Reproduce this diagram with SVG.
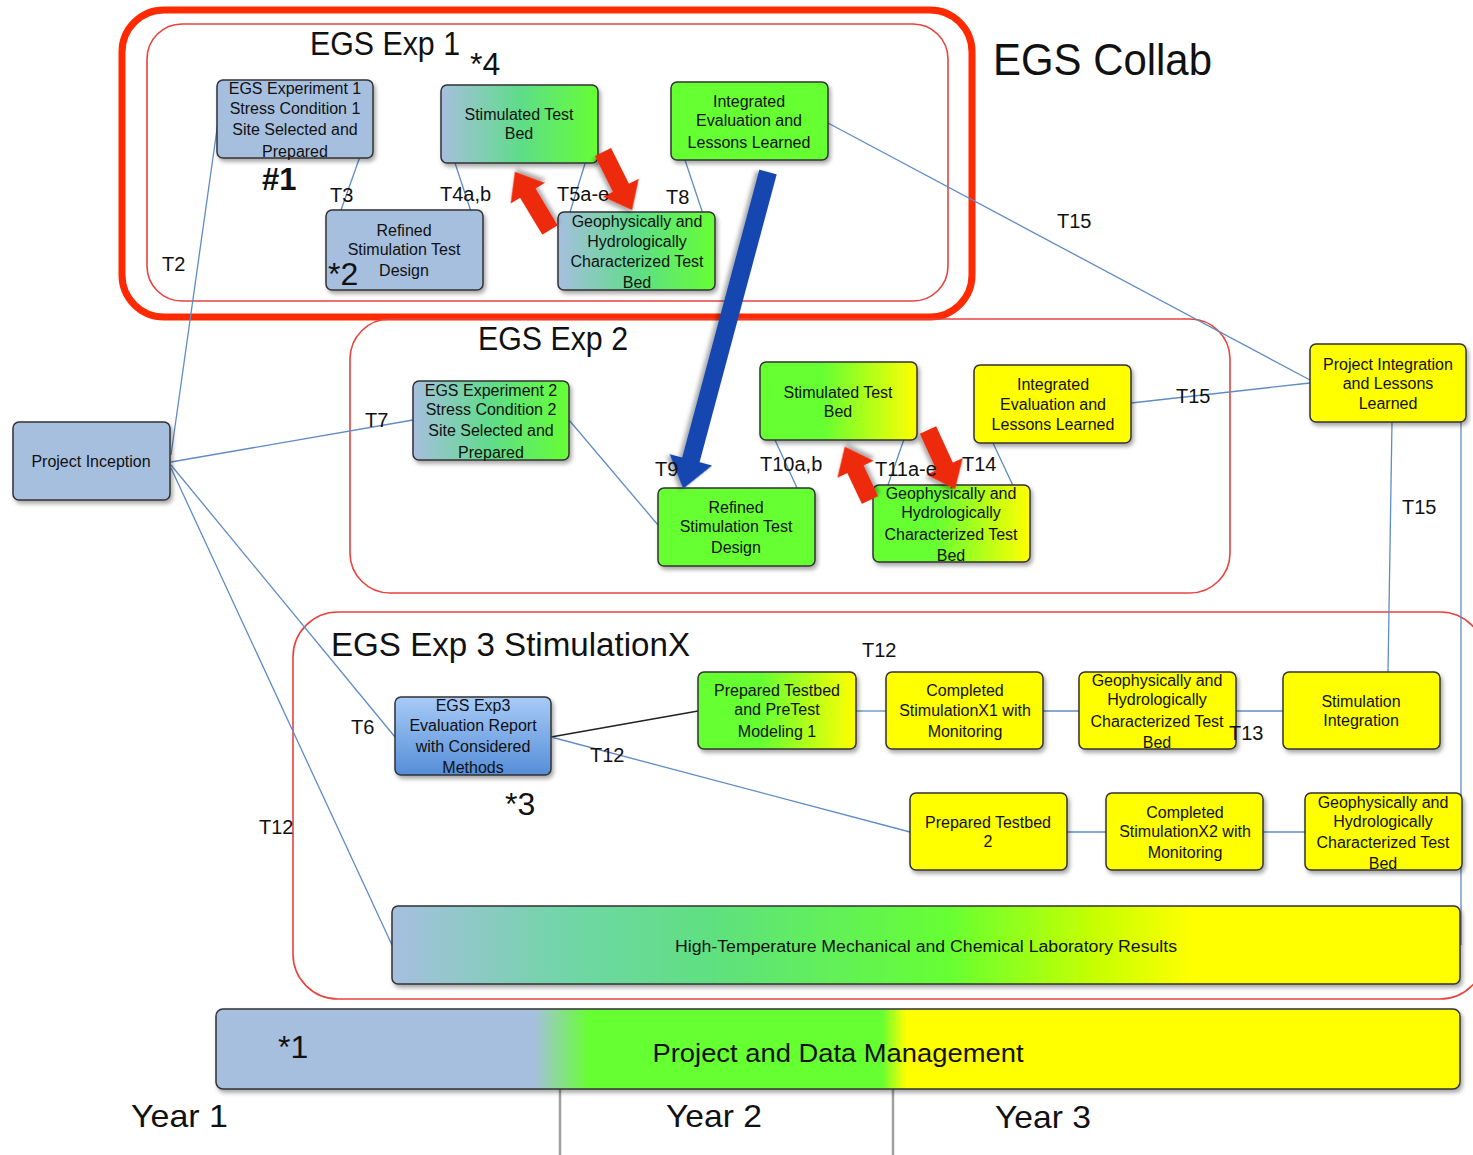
<svg xmlns="http://www.w3.org/2000/svg" width="1473" height="1155" viewBox="0 0 1473 1155">
<style>
.n{stroke:#333;stroke-width:1.5;filter:url(#sh)}
.t{font-family:"Liberation Sans",Arial,sans-serif;font-size:16px;fill:#111;text-anchor:middle}
.lb{font-family:"Liberation Sans",Arial,sans-serif;font-size:20px;fill:#111}
.ti{font-family:"Liberation Sans",Arial,sans-serif;fill:#111}
.c{stroke:#5f8cc4;stroke-width:1.3;fill:none}
.grp{fill:none;stroke:#e8433f;stroke-width:1.6}
.ra{fill:#ee2c0a;filter:url(#sh)}
</style>
<defs>
<filter id="sh" x="-20%" y="-20%" width="140%" height="150%"><feDropShadow dx="2" dy="3" stdDeviation="2" flood-color="#000" flood-opacity="0.35"/></filter>
<linearGradient id="bg"><stop offset="0" stop-color="#a6bfdf"/><stop offset="0.5" stop-color="#5fdc8a"/><stop offset="1" stop-color="#66ff33"/></linearGradient>
<linearGradient id="gy"><stop offset="0" stop-color="#66ff33"/><stop offset="0.4" stop-color="#66ff33"/><stop offset="1" stop-color="#ffff00"/></linearGradient>
<linearGradient id="bv" x1="0" y1="0" x2="0" y2="1"><stop offset="0" stop-color="#a8cbf8"/><stop offset="1" stop-color="#558ed8"/></linearGradient>
<linearGradient id="ht"><stop offset="0" stop-color="#a6bfdf"/><stop offset="0.17" stop-color="#6fd6a5"/><stop offset="0.3" stop-color="#5fe080"/><stop offset="0.52" stop-color="#66ff33"/><stop offset="0.66" stop-color="#c8ff00"/><stop offset="0.75" stop-color="#ffff00"/><stop offset="1" stop-color="#ffff00"/></linearGradient>
<linearGradient id="pd"><stop offset="0" stop-color="#a6bfdf"/><stop offset="0.255" stop-color="#a6bfdf"/><stop offset="0.3" stop-color="#66ff33"/><stop offset="0.535" stop-color="#66ff33"/><stop offset="0.555" stop-color="#ffff00"/><stop offset="1" stop-color="#ffff00"/></linearGradient>
</defs>
<rect width="1473" height="1155" fill="#fff"/>

<g id="groups">
<rect x="122" y="10" width="850" height="307" rx="42" fill="none" stroke="#ff2a00" stroke-width="7"/>
<rect class="grp" x="147" y="24" width="801" height="277" rx="35"/>
<rect class="grp" x="350" y="319" width="880" height="274" rx="40"/>
<rect class="grp" x="293" y="612" width="1192" height="387" rx="45"/>
</g>

<g id="connectors">
<line class="c" x1="171" y1="455" x2="218" y2="122"/>
<line class="c" x1="373" y1="120" x2="341" y2="210"/>
<line class="c" x1="455" y1="163" x2="483" y2="248"/>
<line class="c" x1="597" y1="125" x2="570" y2="212"/>
<line class="c" x1="685" y1="160" x2="715" y2="250"/>
<line class="c" x1="828" y1="123" x2="1310" y2="380"/>
<line class="c" x1="171" y1="462" x2="413" y2="420"/>
<line class="c" x1="569" y1="420" x2="658" y2="525"/>
<line class="c" x1="775" y1="440" x2="815" y2="527"/>
<line class="c" x1="917" y1="402" x2="888" y2="485"/>
<line class="c" x1="993" y1="443" x2="1030" y2="522"/>
<line class="c" x1="1131" y1="403" x2="1310" y2="383"/>
<line class="c" x1="1392" y1="422" x2="1388" y2="672"/>
<line class="c" x1="1461" y1="422" x2="1461" y2="945"/>
<line class="c" x1="171" y1="465" x2="395" y2="737"/>
<line class="c" x1="171" y1="468" x2="392" y2="945"/>
<line x1="551" y1="737" x2="698" y2="711" stroke="#222" stroke-width="1.5"/>
<line class="c" x1="551" y1="737" x2="910" y2="832"/>
<line class="c" x1="856" y1="711" x2="886" y2="711"/>
<line class="c" x1="1043" y1="711" x2="1079" y2="711"/>
<line class="c" x1="1236" y1="711" x2="1283" y2="711"/>
<line class="c" x1="1067" y1="832" x2="1106" y2="832"/>
<line class="c" x1="1263" y1="832" x2="1305" y2="832"/>
<line x1="560" y1="1089" x2="560" y2="1155" stroke="#a0a0a0" stroke-width="2.5"/>
<line x1="893" y1="1089" x2="893" y2="1155" stroke="#a0a0a0" stroke-width="2.5"/>
</g>

<g id="n-exp1-site"><rect class="n" x="217" y="80" width="156" height="78" rx="6" fill="#a6bfdf"/>
<text class="t"><tspan x="295" y="94">EGS Experiment 1</tspan><tspan x="295" y="114">Stress Condition 1</tspan><tspan x="295" y="135">Site Selected and</tspan><tspan x="295" y="157">Prepared</tspan></text></g>
<g id="n-exp1-stim"><rect class="n" x="441" y="85" width="157" height="78" rx="6" fill="url(#bg)"/>
<text class="t"><tspan x="519" y="120">Stimulated Test</tspan><tspan x="519" y="139">Bed</tspan></text></g>
<g id="n-exp1-int"><rect class="n" x="671" y="82" width="157" height="78" rx="6" fill="#66ff33"/>
<text class="t"><tspan x="749" y="107">Integrated</tspan><tspan x="749" y="126">Evaluation and</tspan><tspan x="749" y="148">Lessons Learned</tspan></text></g>
<g id="n-exp1-ref"><rect class="n" x="326" y="210" width="157" height="80" rx="6" fill="#a6bfdf"/>
<text class="t"><tspan x="404" y="236">Refined</tspan><tspan x="404" y="255">Stimulation Test</tspan><tspan x="404" y="276">Design</tspan></text></g>
<g id="n-exp1-geo"><rect class="n" x="558" y="212" width="157" height="78" rx="6" fill="url(#bg)"/>
<text class="t"><tspan x="637" y="227">Geophysically and</tspan><tspan x="637" y="247">Hydrologically</tspan><tspan x="637" y="267">Characterized Test</tspan><tspan x="637" y="288">Bed</tspan></text></g>
<g id="n-inception"><rect class="n" x="13" y="422" width="157" height="78" rx="6" fill="#a6bfdf"/>
<text class="t"><tspan x="91" y="467">Project Inception</tspan></text></g>
<g id="n-exp2-site"><rect class="n" x="413" y="381" width="156" height="79" rx="6" fill="url(#bg)"/>
<text class="t"><tspan x="491" y="396">EGS Experiment 2</tspan><tspan x="491" y="415">Stress Condition 2</tspan><tspan x="491" y="436">Site Selected and</tspan><tspan x="491" y="458">Prepared</tspan></text></g>
<g id="n-exp2-stim"><rect class="n" x="760" y="362" width="157" height="78" rx="6" fill="url(#gy)"/>
<text class="t"><tspan x="838" y="398">Stimulated Test</tspan><tspan x="838" y="417">Bed</tspan></text></g>
<g id="n-exp2-int"><rect class="n" x="974" y="365" width="157" height="78" rx="6" fill="#ffff00"/>
<text class="t"><tspan x="1053" y="390">Integrated</tspan><tspan x="1053" y="410">Evaluation and</tspan><tspan x="1053" y="430">Lessons Learned</tspan></text></g>
<g id="n-exp2-ref"><rect class="n" x="658" y="488" width="157" height="78" rx="6" fill="#66ff33"/>
<text class="t"><tspan x="736" y="513">Refined</tspan><tspan x="736" y="532">Stimulation Test</tspan><tspan x="736" y="553">Design</tspan></text></g>
<g id="n-exp2-geo"><rect class="n" x="873" y="485" width="157" height="77" rx="6" fill="url(#gy)"/>
<text class="t"><tspan x="951" y="499">Geophysically and</tspan><tspan x="951" y="518">Hydrologically</tspan><tspan x="951" y="540">Characterized Test</tspan><tspan x="951" y="561">Bed</tspan></text></g>
<g id="n-integration"><rect class="n" x="1310" y="344" width="156" height="78" rx="6" fill="#ffff00"/>
<text class="t"><tspan x="1388" y="370">Project Integration</tspan><tspan x="1388" y="389">and Lessons</tspan><tspan x="1388" y="409">Learned</tspan></text></g>
<g id="n-exp3-eval"><rect class="n" x="395" y="697" width="156" height="78" rx="6" fill="url(#bv)"/>
<text class="t"><tspan x="473" y="711">EGS Exp3</tspan><tspan x="473" y="731">Evaluation Report</tspan><tspan x="473" y="752">with Considered</tspan><tspan x="473" y="773">Methods</tspan></text></g>
<g id="n-exp3-prep1"><rect class="n" x="698" y="672" width="158" height="77" rx="6" fill="url(#gy)"/>
<text class="t"><tspan x="777" y="696">Prepared Testbed</tspan><tspan x="777" y="715">and PreTest</tspan><tspan x="777" y="737">Modeling 1</tspan></text></g>
<g id="n-exp3-comp1"><rect class="n" x="886" y="672" width="157" height="77" rx="6" fill="#ffff00"/>
<text class="t"><tspan x="965" y="696">Completed</tspan><tspan x="965" y="716">StimulationX1 with</tspan><tspan x="965" y="737">Monitoring</tspan></text></g>
<g id="n-exp3-geo1"><rect class="n" x="1079" y="672" width="157" height="77" rx="6" fill="#ffff00"/>
<text class="t"><tspan x="1157" y="686">Geophysically and</tspan><tspan x="1157" y="705">Hydrologically</tspan><tspan x="1157" y="727">Characterized Test</tspan><tspan x="1157" y="748">Bed</tspan></text></g>
<g id="n-exp3-stimint"><rect class="n" x="1283" y="672" width="157" height="77" rx="6" fill="#ffff00"/>
<text class="t"><tspan x="1361" y="707">Stimulation</tspan><tspan x="1361" y="726">Integration</tspan></text></g>
<g id="n-exp3-prep2"><rect class="n" x="910" y="793" width="157" height="77" rx="6" fill="#ffff00"/>
<text class="t"><tspan x="988" y="828">Prepared Testbed</tspan><tspan x="988" y="847">2</tspan></text></g>
<g id="n-exp3-comp2"><rect class="n" x="1106" y="793" width="157" height="77" rx="6" fill="#ffff00"/>
<text class="t"><tspan x="1185" y="818">Completed</tspan><tspan x="1185" y="837">StimulationX2 with</tspan><tspan x="1185" y="858">Monitoring</tspan></text></g>
<g id="n-exp3-geo2"><rect class="n" x="1305" y="793" width="157" height="77" rx="6" fill="#ffff00"/>
<text class="t"><tspan x="1383" y="808">Geophysically and</tspan><tspan x="1383" y="827">Hydrologically</tspan><tspan x="1383" y="848">Characterized Test</tspan><tspan x="1383" y="869">Bed</tspan></text></g>
<g id="n-hightemp"><rect class="n" x="392" y="906" width="1068" height="78" rx="6" fill="url(#ht)"/>
<text class="t" x="926" y="952" font-size="14.5" textLength="502" lengthAdjust="spacingAndGlyphs">High-Temperature Mechanical and Chemical  Laboratory Results</text></g>
<g id="n-pdm"><rect class="n" x="216" y="1009" width="1244" height="80" rx="7" fill="url(#pd)"/>
<text class="ti" x="838" y="1062" font-size="26" text-anchor="middle" textLength="371" lengthAdjust="spacingAndGlyphs">Project and Data Management</text>
<text class="ti" x="278" y="1058" font-size="32">*1</text></g>

<g id="arrows">
<path class="ra" transform="translate(550,230) rotate(-121.1)" d="M0,-9 L43,-9 L43,-20 L68,0 L43,20 L43,9 L0,9 Z"/>
<path class="ra" transform="translate(603,152) rotate(63.4)" d="M0,-9 L40,-9 L40,-20 L65,0 L40,20 L40,9 L0,9 Z"/>
<path class="ra" transform="translate(870,500) rotate(-115.3)" d="M0,-9 L34,-9 L34,-20 L59,0 L34,20 L34,9 L0,9 Z"/>
<path class="ra" transform="translate(928,430) rotate(65.4)" d="M0,-9 L40,-9 L40,-20 L65,0 L40,20 L40,9 L0,9 Z"/>
<path fill="#1546b0" filter="url(#sh)" transform="translate(768,172) rotate(105)" d="M0,-9 L298,-9 L298,-22 L328,0 L298,22 L298,9 L0,9 Z"/>
</g>

<g id="labels">
<text class="ti" x="310" y="55" font-size="33" textLength="150" lengthAdjust="spacingAndGlyphs">EGS Exp 1</text>
<text class="ti" x="470" y="75" font-size="32">*4</text>
<text class="ti" x="993" y="75" font-size="44" textLength="219" lengthAdjust="spacingAndGlyphs">EGS Collab</text>
<text class="ti" x="262" y="190" font-size="31" font-weight="bold">#1</text>
<text class="ti" x="328" y="285" font-size="32">*2</text>
<text class="ti" x="478" y="350" font-size="33" textLength="150" lengthAdjust="spacingAndGlyphs">EGS Exp 2</text>
<text class="ti" x="331" y="656" font-size="33" textLength="359" lengthAdjust="spacingAndGlyphs">EGS Exp 3 StimulationX</text>
<text class="ti" x="505" y="815" font-size="32">*3</text>
<text class="lb" x="330" y="202">T3</text>
<text class="lb" x="440" y="201">T4a,b</text>
<text class="lb" x="557" y="201">T5a-e</text>
<text class="lb" x="666" y="204">T8</text>
<text class="lb" x="162" y="271">T2</text>
<text class="lb" x="1057" y="228">T15</text>
<text class="lb" x="365" y="427">T7</text>
<text class="lb" x="655" y="476">T9</text>
<text class="lb" x="760" y="471">T10a,b</text>
<text class="lb" x="875" y="476">T11a-e</text>
<text class="lb" x="962" y="471">T14</text>
<text class="lb" x="1176" y="403">T15</text>
<text class="lb" x="1402" y="514">T15</text>
<text class="lb" x="862" y="657">T12</text>
<text class="lb" x="351" y="734">T6</text>
<text class="lb" x="590" y="762">T12</text>
<text class="lb" x="259" y="834">T12</text>
<text class="lb" x="1229" y="740">T13</text>
<text class="ti" x="131" y="1127" font-size="32" textLength="97" lengthAdjust="spacingAndGlyphs">Year 1</text>
<text class="ti" x="666" y="1127" font-size="32" textLength="96" lengthAdjust="spacingAndGlyphs">Year 2</text>
<text class="ti" x="995" y="1128" font-size="32" textLength="96" lengthAdjust="spacingAndGlyphs">Year 3</text>
</g>
</svg>
